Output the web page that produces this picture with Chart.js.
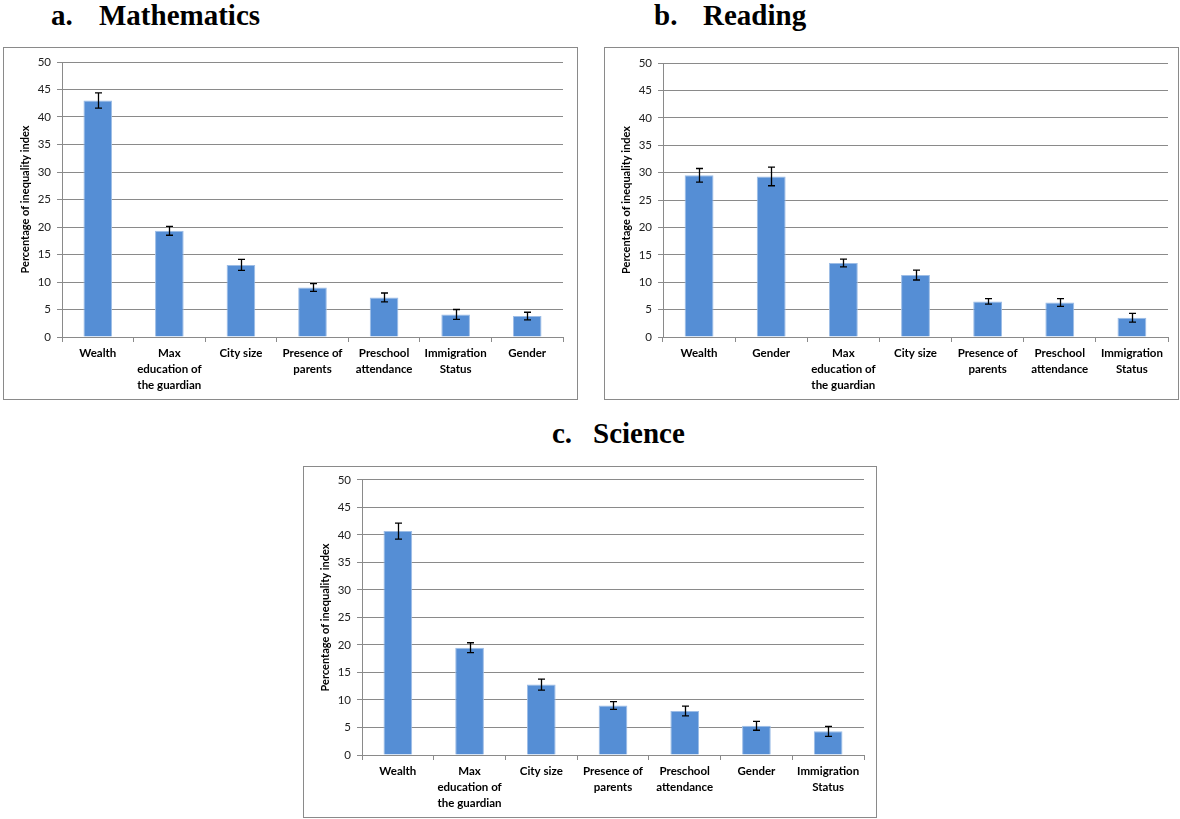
<!DOCTYPE html>
<html>
<head>
<meta charset="utf-8">
<script src="https://cdn.jsdelivr.net/npm/chart.js@4/dist/chart.umd.min.js"></script>
<style>
  body { margin: 0; background: #fff; width: 1180px; height: 819px; position: relative; overflow: hidden; }
  .title { position: absolute; font-family: "Liberation Serif", "Times New Roman", serif; font-weight: bold; font-size: 29px; line-height: 29px; color: #000; white-space: nowrap; }
  .box { position: absolute; border: 1px solid #8a8a8a; box-sizing: border-box; background: #fff; }
  .box canvas { position: absolute; left: 0; top: 0; }
</style>
</head>
<body>

<div class="title" style="left:51px; top:1px;">a.</div>
<div class="title" style="left:99px; top:1px;">Mathematics</div>
<div class="title" style="left:654px; top:1px;">b.</div>
<div class="title" style="left:703px; top:1px;">Reading</div>
<div class="title" style="left:552px; top:419px;">c.</div>
<div class="title" style="left:593px; top:419px;">Science</div>

<div class="box" style="left:3px; top:47px; width:575px; height:353px;"><canvas id="mathChart"></canvas></div>
<div class="box" style="left:604px; top:47px; width:575px; height:353px;"><canvas id="readingChart"></canvas></div>
<div class="box" style="left:303px; top:466px; width:574px; height:352px;"><canvas id="scienceChart"></canvas></div>

<script>
// ---- data ----
const yTicks = [0, 5, 10, 15, 20, 25, 30, 35, 40, 45, 50];

const mathLabels = ["Wealth", ["Max", "education of", "the guardian"], "City size", ["Presence of", "parents"], ["Preschool", "attendance"], ["Immigration", "Status"], "Gender"];
const mathValues = [43.0, 19.3, 13.1, 9.0, 7.2, 4.1, 3.8];
const mathErrors = [1.4, 0.8, 1.0, 0.7, 0.8, 0.9, 0.7];

const readingLabels = ["Wealth", "Gender", ["Max", "education of", "the guardian"], "City size", ["Presence of", "parents"], ["Preschool", "attendance"], ["Immigration", "Status"]];
const readingValues = [29.5, 29.3, 13.5, 11.3, 6.5, 6.3, 3.5];
const readingErrors = [1.25, 1.7, 0.7, 0.9, 0.5, 0.7, 0.8];

const scienceLabels = ["Wealth", ["Max", "education of", "the guardian"], "City size", ["Presence of", "parents"], ["Preschool", "attendance"], "Gender", ["Immigration", "Status"]];
const scienceValues = [40.7, 19.5, 12.8, 9.0, 8.0, 5.3, 4.3];
const scienceErrors = [1.45, 0.9, 1.0, 0.7, 0.9, 0.8, 0.9];

const gridColor = "#8a8a8a";
const fontFamily = "Lato, 'Open Sans', sans-serif";

// draws the error bars from the data through the y scale
const errorBars = {
  id: "errorBars",
  afterDatasetsDraw(chart) {
    const ds = chart.data.datasets[0];
    const meta = chart.getDatasetMeta(0);
    const yScale = chart.scales.y;
    const ctx = chart.ctx;
    ctx.save();
    ctx.strokeStyle = "#000";
    ctx.lineWidth = 1.3;
    meta.data.forEach((bar, i) => {
      const yTop = yScale.getPixelForValue(ds.data[i] + ds.errors[i]);
      const yBot = yScale.getPixelForValue(ds.data[i] - ds.errors[i]);
      const x = Math.round(bar.x) + 0.5;
      ctx.beginPath();
      ctx.moveTo(x, yTop); ctx.lineTo(x, yBot);
      ctx.moveTo(x - 3.5, yTop); ctx.lineTo(x + 3.5, yTop);
      ctx.moveTo(x - 3.5, yBot); ctx.lineTo(x + 3.5, yBot);
      ctx.stroke();
    });
    ctx.restore();
  }
};

function createChart(id, labels, values, errors, size, pad) {
  const canvas = document.getElementById(id);
  canvas.width = size.w;
  canvas.height = size.h;
  canvas.style.width = size.w + "px";
  canvas.style.height = size.h + "px";

  return new Chart(canvas.getContext("2d"), {
    type: "bar",
    data: {
      labels: labels,
      datasets: [{
        data: values,
        errors: errors,
        backgroundColor: "#558ed5",
        borderColor: "#9dbde6",
        borderWidth: 1,
        barPercentage: 0.4,
        categoryPercentage: 1.0
      }]
    },
    options: {
      responsive: false,
      animation: false,
      layout: { padding: { left: 0, top: pad.top, right: pad.right, bottom: 0 } },
      plugins: { legend: { display: false }, tooltip: { enabled: false } },
      scales: {
        x: {
          offset: true,
          grid: { drawOnChartArea: false, drawTicks: true, tickLength: 5, color: gridColor, offset: true },
          border: { color: gridColor, width: 1 },
          ticks: {
            color: "#000",
            maxRotation: 0,
            autoSkip: false,
            padding: 4,
            font: { family: fontFamily, size: 11.5, weight: "bold", lineHeight: 1.35 }
          },
          afterFit: s => { s.height = pad.bottomAxis; }
        },
        y: {
          min: 0,
          max: 50,
          afterBuildTicks: s => { s.ticks = yTicks.map(v => ({ value: v })); },
          grid: { color: gridColor, lineWidth: 1, tickLength: 5 },
          border: { color: gridColor, width: 1 },
          ticks: {
            color: "#222",
            padding: 6,
            font: { family: fontFamily, size: 11.5 }
          },
          title: {
            display: true,
            text: "Percentage of inequality index",
            color: "#000",
            padding: { top: 15, bottom: 0 },
            font: { family: fontFamily, size: 11, weight: "bold" }
          },
          afterFit: s => { s.width = pad.leftAxis; }
        }
      }
    },
    plugins: [errorBars]
  });
}

document.addEventListener("DOMContentLoaded", () => {
  createChart("mathChart", mathLabels, mathValues, mathErrors,
    { w: 573, h: 351 }, { top: 14, right: 14, leftAxis: 58, bottomAxis: 62 });
  createChart("readingChart", readingLabels, readingValues, readingErrors,
    { w: 573, h: 351 }, { top: 15, right: 10, leftAxis: 58, bottomAxis: 62 });
  createChart("scienceChart", scienceLabels, scienceValues, scienceErrors,
    { w: 572, h: 350 }, { top: 12, right: 12, leftAxis: 58, bottomAxis: 62 });
});
</script>
</body>
</html>
